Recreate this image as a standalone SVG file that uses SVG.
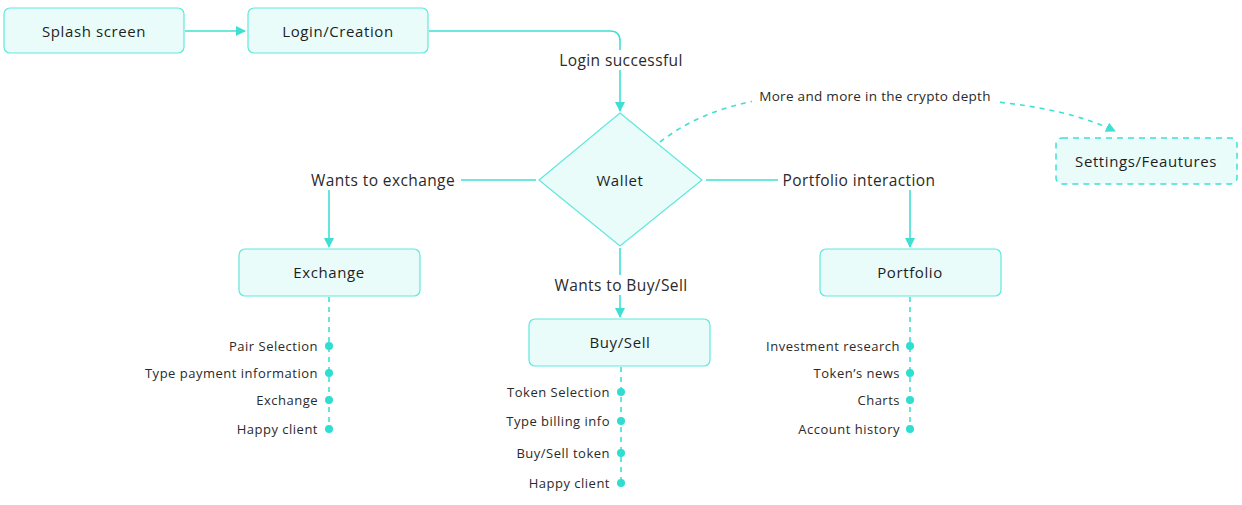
<svg xmlns="http://www.w3.org/2000/svg" width="1242" height="505" viewBox="0 0 1242 505">
<style>
.box{fill:#e9fcfa;stroke:#5fe8dc;stroke-width:1.2}
.dbox{fill:#e9fcfa;stroke:#3fe0d3;stroke-width:1.5;stroke-dasharray:6 5}
.t{font-family:"Open Sans","Liberation Sans",sans-serif;font-size:15px;letter-spacing:0.6px;fill:#1e1e1e;text-anchor:middle;dominant-baseline:central}
.lb{font-family:"Open Sans","Liberation Sans",sans-serif;font-size:15.5px;letter-spacing:0.4px;fill:#2a2a2a;text-anchor:middle;dominant-baseline:central}
.sm{font-family:"Open Sans","Liberation Sans",sans-serif;font-size:13px;letter-spacing:0.5px;fill:#2a2a2a;text-anchor:end;dominant-baseline:central}
.ln{fill:none;stroke:#3fe0d3;stroke-width:1.6}
.dl{fill:none;stroke:#3fe0d3;stroke-width:1.6;stroke-dasharray:5 5}
.dot{fill:#2fded0}
.bg{fill:#fff}
</style>
<defs>
<marker id="ar" viewBox="0 0 10 10" refX="9" refY="5" markerWidth="10" markerHeight="10" markerUnits="userSpaceOnUse" orient="auto">
<path d="M0,0 L10,5 L0,10 z" fill="#3fe0d3"/>
</marker>
</defs>
<rect width="1242" height="505" fill="#fff"/>
<g id="connectors">
<path class="ln" d="M185,31 H245" marker-end="url(#ar)"/>
<path class="ln" d="M429,31 H610 Q620,31 620,41 V111" marker-end="url(#ar)"/>
<path class="ln" d="M536,180 H329 V247" marker-end="url(#ar)"/>
<path class="ln" d="M706,180 H910 V247" marker-end="url(#ar)"/>
<path class="ln" d="M620,248 V317" marker-end="url(#ar)"/>
<path class="dl" d="M660,142 C720,95 800,92 870,95 C960,98 1050,100 1115,131" marker-end="url(#ar)"/>
<path class="dl" d="M329,297 V429"/>
<path class="dl" d="M621,367 V483"/>
<path class="dl" d="M910,297 V429"/>
<rect class="bg" x="554" y="50" width="134" height="20"/>
<text class="lb" x="621" y="60">Login successful</text>
<rect class="bg" x="305" y="170" width="156" height="20"/>
<text class="lb" x="383" y="180">Wants to exchange</text>
<rect class="bg" x="778" y="170" width="162" height="20"/>
<text class="lb" x="859" y="180">Portfolio interaction</text>
<rect class="bg" x="549" y="275" width="144" height="20"/>
<text class="lb" x="621" y="285">Wants to Buy/Sell</text>
<rect class="bg" x="752" y="86" width="246" height="20"/>
<text class="lb" x="875" y="96" style="font-size:13.5px;letter-spacing:0.3px">More and more in the crypto depth</text>
</g>
<g id="splash"><rect class="box" x="4" y="8" width="180" height="45" rx="6"/><text class="t" x="94" y="31">Splash screen</text></g>
<g id="login"><rect class="box" x="248" y="8" width="180" height="45" rx="6"/><text class="t" x="338" y="31">Login/Creation</text></g>
<g id="wallet"><path class="box" d="M620,113 L702,180 L620,246 L539,180 Z"/><text class="t" x="620" y="180">Wallet</text></g>
<g id="settings"><rect class="dbox" x="1056" y="138" width="181" height="46" rx="6"/><text class="t" x="1146" y="161">Settings/Feautures</text></g>
<g id="exchange"><rect class="box" x="239" y="249" width="181" height="47" rx="6"/><text class="t" x="329" y="272">Exchange</text>
<circle class="dot" cx="329" cy="346" r="4"/><text class="sm" x="318" y="346">Pair Selection</text>
<circle class="dot" cx="329" cy="373" r="4"/><text class="sm" x="318" y="373">Type payment information</text>
<circle class="dot" cx="329" cy="400" r="4"/><text class="sm" x="318" y="400">Exchange</text>
<circle class="dot" cx="329" cy="429" r="4"/><text class="sm" x="318" y="429">Happy client</text>
</g>
<g id="buysell"><rect class="box" x="529" y="319" width="181" height="47" rx="6"/><text class="t" x="620" y="342">Buy/Sell</text>
<circle class="dot" cx="621" cy="392" r="4"/><text class="sm" x="610" y="392">Token Selection</text>
<circle class="dot" cx="621" cy="421" r="4"/><text class="sm" x="610" y="421">Type billing info</text>
<circle class="dot" cx="621" cy="453" r="4"/><text class="sm" x="610" y="453">Buy/Sell token</text>
<circle class="dot" cx="621" cy="483" r="4"/><text class="sm" x="610" y="483">Happy client</text>
</g>
<g id="portfolio"><rect class="box" x="820" y="249" width="181" height="47" rx="6"/><text class="t" x="910" y="272">Portfolio</text>
<circle class="dot" cx="910" cy="346" r="4"/><text class="sm" x="900" y="346">Investment research</text>
<circle class="dot" cx="910" cy="373" r="4"/><text class="sm" x="900" y="373">Token’s news</text>
<circle class="dot" cx="910" cy="400" r="4"/><text class="sm" x="900" y="400">Charts</text>
<circle class="dot" cx="910" cy="429" r="4"/><text class="sm" x="900" y="429">Account history</text>
</g>
</svg>
